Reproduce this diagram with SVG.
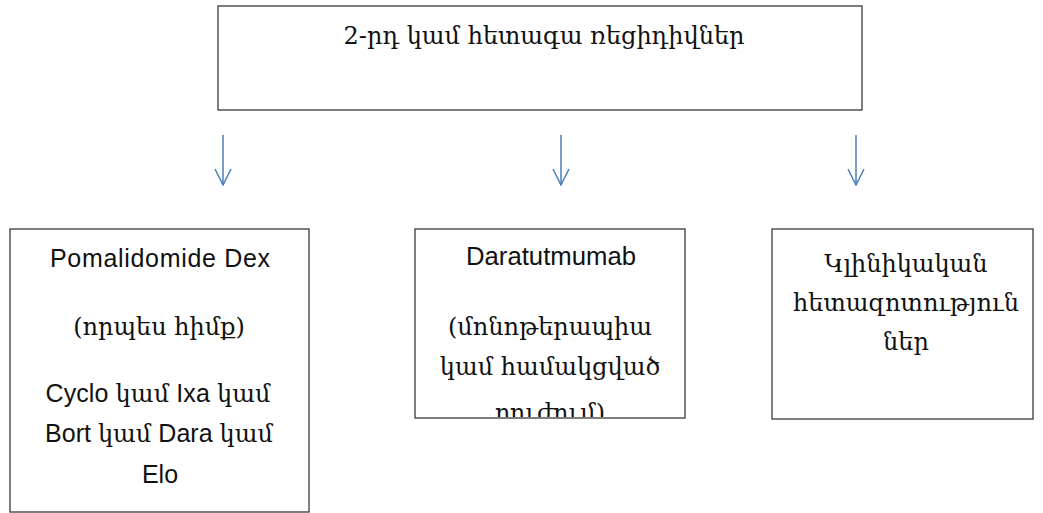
<svg xmlns="http://www.w3.org/2000/svg" width="1043" height="513" viewBox="0 0 1043 513">
<style>
.box{fill:#fff;stroke:#3a3a3a;stroke-width:1.3}
.t{font-size:24px;fill:#111;text-anchor:middle}
.lat{font-family:"Liberation Sans","DejaVu Sans",sans-serif;font-size:25px}
.arm{font-family:"DejaVu Serif","DejaVu Sans",serif;font-size:24px}
.conn{stroke:#4a7ebb;stroke-width:1.5;fill:none}
</style>
<defs>
<marker id="ah" viewBox="-19 -10 20 20" refX="0" refY="0" markerWidth="20" markerHeight="20" markerUnits="userSpaceOnUse" orient="auto">
<path d="M-16,-8 L0,0 L-16,8" fill="none" stroke="#4a7ebb" stroke-width="1.5"/>
</marker>
<clipPath id="cm"><rect x="415" y="229" width="270" height="188"/></clipPath>
</defs>
<rect width="1043" height="513" fill="#fff"/>
<g id="top">
<rect class="box" x="218" y="6" width="644" height="104"/>
<text class="t arm" x="544" y="44">2-րդ կամ հետագա ռեցիդիվներ</text>
</g>
<g id="connectors">
<line class="conn" x1="223" y1="135" x2="223" y2="185" marker-end="url(#ah)"/>
<line class="conn" x1="561" y1="135" x2="561" y2="185" marker-end="url(#ah)"/>
<line class="conn" x1="856" y1="135" x2="856" y2="185" marker-end="url(#ah)"/>
</g>
<g id="left">
<rect class="box" x="10" y="229" width="299" height="283"/>
<text class="t lat" x="160" y="267" textLength="220" lengthAdjust="spacing">Pomalidomide Dex</text>
<text class="t arm" x="159" y="335">(որպես հիմք)</text>
<text class="t" x="158" y="402" textLength="225" lengthAdjust="spacing"><tspan class="lat">Cyclo </tspan><tspan class="arm">կամ</tspan><tspan class="lat"> Ixa </tspan><tspan class="arm">կամ</tspan></text>
<text class="t" x="159" y="442" textLength="228" lengthAdjust="spacing"><tspan class="lat">Bort </tspan><tspan class="arm">կամ</tspan><tspan class="lat"> Dara </tspan><tspan class="arm">կամ</tspan></text>
<text class="t lat" x="160" y="483">Elo</text>
</g>
<g id="middle">
<rect class="box" x="415" y="229" width="270" height="189"/>
<g clip-path="url(#cm)">
<text class="t lat" x="551" y="265" textLength="170" lengthAdjust="spacingAndGlyphs">Daratutmumab</text>
<text class="t arm" x="550" y="335">(մոնոթերապիա</text>
<text class="t arm" x="550" y="375">կամ համակցված</text>
<text class="t arm" x="550" y="421">բուժում)</text>
</g>
</g>
<g id="right">
<rect class="box" x="772" y="229" width="261" height="190"/>
<text class="t arm" x="906" y="272">Կլինիկական</text>
<text class="t arm" x="906" y="311">հետազոտություն</text>
<text class="t arm" x="906" y="350">ներ</text>
</g>
</svg>
